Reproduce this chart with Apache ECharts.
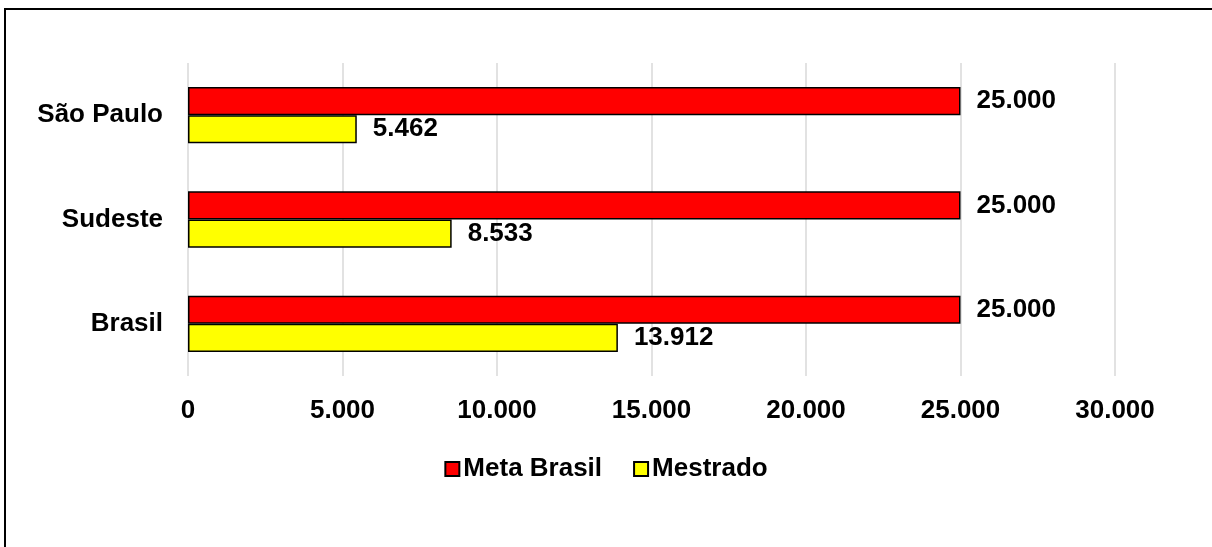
<!DOCTYPE html>
<html>
<head>
<meta charset="utf-8">
<script src="https://cdn.jsdelivr.net/npm/echarts@6/dist/echarts.min.js"></script>
<style>
html,body{margin:0;padding:0;background:#fff;}
#chart{width:1212px;height:547px;}
</style>
</head>
<body>
<div id="chart"></div>
<script>
var categories = ['Brasil', 'Sudeste', 'São Paulo'];
var metaBrasil = [25000, 25000, 25000];
var mestrado = [13912, 8533, 5462];
var seriesNames = ['Meta Brasil', 'Mestrado'];
var xTicks = [0, 5000, 10000, 15000, 20000, 25000, 30000];

function fmt(v) {
  return String(v).replace(/\B(?=(\d{3})+(?!\d))/g, '.');
}

var font = 'Liberation Sans, Arial, sans-serif';
var fs = 26;
var chart = echarts.init(document.getElementById('chart'));
var labelStyle = {
  show: true,
  position: 'right',
  distance: 16,
  color: '#000',
  fontFamily: font,
  fontWeight: 'bold',
  fontSize: fs,
  formatter: function (p) { return fmt(p.value); }
};
chart.setOption({
  animation: false,
  backgroundColor: '#fff',
  graphic: [{
    type: 'rect',
    shape: { x: 5, y: 9, width: 1300, height: 700 },
    style: { fill: 'none', stroke: '#000', lineWidth: 2 },
    silent: true
  }],
  grid: { left: 188, right: 97, top: 63, bottom: 171, containLabel: false },
  xAxis: {
    type: 'value',
    min: xTicks[0],
    max: xTicks[xTicks.length - 1],
    interval: 5000,
    axisLine: { show: false },
    axisTick: { show: false },
    splitLine: { show: true, lineStyle: { color: '#d9d9d9', width: 1.5 } },
    axisLabel: {
      margin: 22,
      color: '#000',
      fontFamily: font,
      fontWeight: 'bold',
      fontSize: fs,
      formatter: function (v) { return fmt(v); }
    }
  },
  yAxis: {
    type: 'category',
    data: categories,
    axisLine: { show: false },
    axisTick: { show: false },
    axisLabel: {
      margin: 25,
      color: '#000',
      fontFamily: font,
      fontWeight: 'bold',
      fontSize: fs
    }
  },
  legend: {
    data: seriesNames,
    left: 'center',
    top: 451,
    itemWidth: 14,
    itemHeight: 14,
    itemGap: 31,
    icon: 'rect',
    textStyle: {
      color: '#000',
      fontFamily: font,
      fontWeight: 'bold',
      fontSize: fs,
      padding: [0, 0, 0, -1]
    }
  },
  series: [
    {
      name: seriesNames[0],
      type: 'bar',
      data: metaBrasil,
      barGap: '0%',
      barCategoryGap: '46%',
      itemStyle: { color: '#ff0000', borderColor: '#000', borderWidth: 1.5 },
      label: labelStyle
    },
    {
      name: seriesNames[1],
      type: 'bar',
      data: mestrado,
      barGap: '0%',
      barCategoryGap: '46%',
      itemStyle: { color: '#ffff00', borderColor: '#000', borderWidth: 1.5 },
      label: labelStyle
    }
  ]
});
</script>
</body>
</html>
